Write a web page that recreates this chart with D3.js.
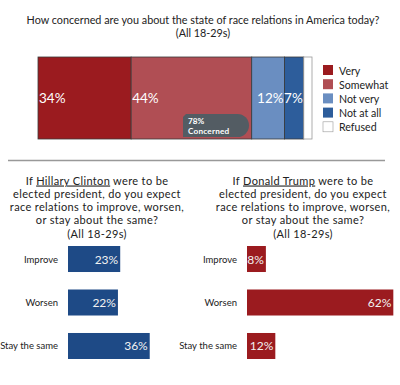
<!DOCTYPE html>
<html>
<head>
<meta charset="utf-8">
<script src="https://cdn.jsdelivr.net/npm/d3@7"></script>
<style>
  body { margin: 0; background: #fff; }
  svg { font-family: Lato, "Open Sans", sans-serif; }
</style>
</head>
<body>
<svg width="400" height="385"></svg>
<script>
// top stacked bar
var concernCats = ['Very', 'Somewhat', 'Not very', 'Not at all', 'Refused'],
    concernVals = [34, 44, 12, 7, 3],
    concernColors = ['#9b1b1f', '#b04e54', '#6a8ec1', '#2d5d9b', '#ffffff'];

// lower panels
var outcomeCats = ['Improve', 'Worsen', 'Stay the same'],
    clintonVals = [23, 22, 36],
    trumpVals = [8, 62, 12];

var svg = d3.select('svg');

// title, two lines in one text element
var title = svg.append('text').attr('text-anchor', 'middle').attr('fill', '#222').style('font-size', '10.8px');
title.append('tspan').attr('x', 203).attr('y', 23.5).text('How concerned are you about the state of race relations in America today?');
title.append('tspan').attr('x', 203).attr('dy', 13.5).text('(All 18-29s)');

// stacked bar
var stack = [], acc = 0;
concernVals.forEach(function(v, i) {
  stack.push({ cat: concernCats[i], v: v, x0: acc, x1: acc + v, color: concernColors[i] });
  acc += v;
});

var x = d3.scaleLinear().domain([0, 100]).range([38, 312]);
var barTop = 57, barH = 82;

var seg = svg.append('g').attr('class', 'stack')
  .selectAll('g')
  .data(stack)
  .enter().append('g');

seg.append('rect')
  .attr('x', function(d) { return x(d.x0); })
  .attr('y', barTop)
  .attr('width', function(d) { return x(d.x1) - x(d.x0); })
  .attr('height', barH)
  .attr('fill', function(d) { return d.color; })
  .attr('stroke', function(d) { return d.cat == 'Refused' ? '#999' : '#3a3a3a'; })
  .attr('stroke-width', 0.8);

seg.filter(function(d) { return d.cat != 'Refused'; })
  .append('text')
  .attr('x', function(d) { return d.v > 20 ? x(d.x0) + 1 : x(d.x1) - 1; })
  .attr('y', barTop + barH / 2 + 5)
  .attr('text-anchor', function(d) { return d.v > 20 ? 'start' : 'end'; })
  .attr('fill', '#fff')
  .style('font-size', '13.5px')
  .text(function(d) { return d.v + '%'; });

// "78% Concerned" callout
var concerned = concernVals[0] + concernVals[1];
var cx0 = 183, cx1 = 249, cy0 = 114, cy1 = 137, r = (cy1 - cy0) / 2;
svg.append('path')
  .attr('d', 'M' + (cx0 + 3) + ',' + cy0 + 'L' + (cx1 - r) + ',' + cy0 +
             'A' + r + ',' + r + ' 0 0 1 ' + (cx1 - r) + ',' + cy1 +
             'L' + cx0 + ',' + cy1 + 'L' + cx0 + ',' + (cy0 + 3) + 'Z')
  .attr('fill', '#535c63');
var ct = svg.append('text').attr('fill', '#fff').style('font-size', '8.2px').style('font-weight', 'bold');
ct.append('tspan').attr('x', 188).attr('y', 124).text(concerned + '%');
ct.append('tspan').attr('x', 188).attr('dy', 10.1).style('letter-spacing', '0.2px').text('Concerned');

// legend
var legend = svg.append('g').selectAll('g')
  .data(stack)
  .enter().append('g')
  .attr('transform', function(d, i) { return 'translate(323,' + (65 + i * 14.2) + ')'; });
legend.append('rect')
  .attr('width', 10).attr('height', 10)
  .attr('fill', function(d) { return d.color; })
  .attr('stroke', function(d) { return d.cat == 'Refused' ? '#999' : 'none'; })
  .attr('stroke-width', 0.6);
legend.append('text')
  .attr('x', 16).attr('y', 9.5)
  .attr('fill', '#222')
  .style('font-size', '10.6px')
  .text(function(d) { return d.cat; });

// separator
svg.append('line')
  .attr('x1', 8).attr('x2', 385).attr('y1', 160.5).attr('y2', 160.5)
  .attr('stroke', '#999').attr('stroke-width', 1.5);

// lower panels
function panel(cx, name, vals, color, x0, pxPer, labelRight) {
  var g = svg.append('g');
  var q = g.append('text').attr('text-anchor', 'middle').attr('fill', '#222')
    .style('font-size', '11px').style('letter-spacing', '0.35px');
  var l1 = q.append('tspan').attr('x', cx).attr('y', 184.5);
  l1.append('tspan').text('If ');
  l1.append('tspan').attr('text-decoration', 'underline').text(name);
  l1.append('tspan').text(' were to be');
  ['elected president, do you expect', 'race relations to improve, worsen,',
   'or stay about the same?', '(All 18-29s)'].forEach(function(t, i) {
    q.append('tspan').attr('x', cx).attr('y', 197.8 + i * 13.3).text(t);
  });

  var xs = d3.scaleLinear().domain([0, d3.max(vals)]).range([x0, x0 + d3.max(vals) * pxPer]);
  var y = d3.scaleBand().domain(outcomeCats).range([246, 359]).paddingInner(0.402);

  g.selectAll('rect.bar')
    .data(vals)
    .enter().append('rect')
    .attr('class', 'bar')
    .attr('x', xs(0))
    .attr('y', function(d, i) { return y(outcomeCats[i]); })
    .attr('width', function(d) { return xs(d) - xs(0); })
    .attr('height', y.bandwidth())
    .attr('fill', color);

  g.selectAll('text.val')
    .data(vals)
    .enter().append('text')
    .attr('class', 'val')
    .attr('x', function(d) { return xs(d) - 2; })
    .attr('y', function(d, i) { return y(outcomeCats[i]) + y.bandwidth() / 2 + 4.5; })
    .attr('text-anchor', 'end')
    .attr('fill', '#f2f2f2')
    .style('font-size', '12px')
    .text(function(d) { return d + '%'; });

  g.selectAll('text.cat')
    .data(outcomeCats)
    .enter().append('text')
    .attr('class', 'cat')
    .attr('x', labelRight)
    .attr('y', function(d) { return y(d) + y.bandwidth() / 2 + 3.5; })
    .attr('text-anchor', 'end')
    .attr('fill', '#222')
    .style('font-size', '9.5px')
    .text(function(d) { return d; });
}

panel(97, 'Hillary Clinton', clintonVals, '#1e4a86', 68, 2.27, 58);
panel(303, 'Donald Trump', trumpVals, '#9b1b1f', 247, 2.36, 237);
</script>
</body>
</html>
